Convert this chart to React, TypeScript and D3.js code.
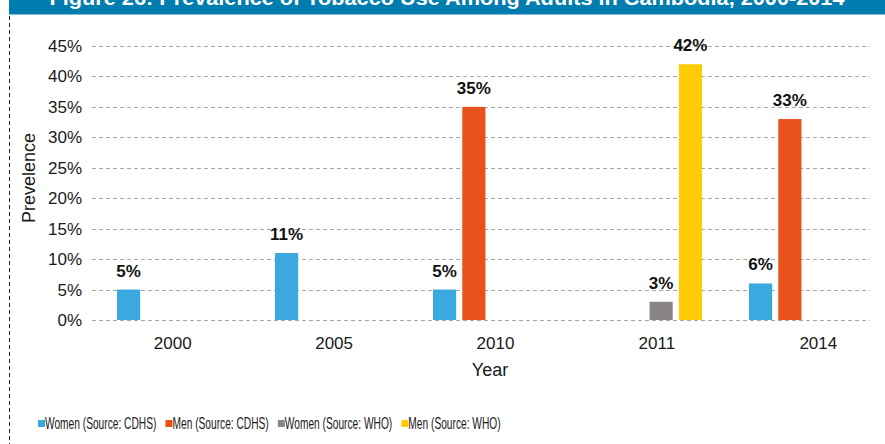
import React from 'react';
import * as d3 from 'd3';

const years = ['2000', '2005', '2010', '2011', '2014'];
const seriesNames = ['Women (Source: CDHS)', 'Men (Source: CDHS)', 'Women (Source: WHO)', 'Men (Source: WHO)'];
const womenCDHS: (number | null)[] = [5, 11, 5, null, 6];
const menCDHS: (number | null)[] = [null, null, 35, null, 33];
const womenWHO: (number | null)[] = [null, null, null, 3, null];
const menWHO: (number | null)[] = [null, null, null, 42, null];
const yTicks = [0, 5, 10, 15, 20, 25, 30, 35, 40, 45];
const colors = ['#3AA9E0', '#E8521A', '#8A8584', '#FFCB05'];
const titleText = 'Figure 26: Prevalence of Tobacco Use Among Adults in Cambodia, 2000-2014';
const yTitle = 'Prevelence';
const xTitle = 'Year';

const W = 885;
const H = 444;
const FONT = "'Liberation Sans', Arial, Helvetica, sans-serif";

function measure(text: string, font: string): number {
  if (typeof document === 'undefined') return text.length * 8;
  const c = document.createElement('canvas');
  const ctx = c.getContext('2d');
  if (!ctx) return text.length * 8;
  ctx.font = font;
  return ctx.measureText(text).width;
}

export default function App() {
  const seriesValues = [womenCDHS, menCDHS, womenWHO, menWHO];

  const y = d3.scaleLinear().domain([0, 45]).range([320, 46]);
  const xGroup = d3.scaleBand<string>().domain(years).range([92, 882]).paddingInner(0).paddingOuter(0);
  const xInner = d3.scaleBand<string>().domain(seriesNames).range([25, 136]).paddingInner(0.21).paddingOuter(0);
  const xLabel = d3.scaleBand<string>().domain(years).range([92, 899]);

  const gridX0 = 92;
  const gridX1 = 870;

  // legend layout: condensed text (horizontal squeeze)
  const legendSize = 16;
  const condenseTarget = 0.68 * 15; // width of 15px Arial * 0.68
  let cursor = 38;
  const legendItems = seriesNames.map((name, i) => {
    const nat = measure(name, `${legendSize}px ${FONT}`);
    const tw = measure(name, `15px ${FONT}`) * 0.68;
    const sx = nat > 0 ? tw / nat : 0.64;
    const item = { name, color: colors[i], rx: cursor, tx: cursor + 7, tw, sx };
    cursor = cursor + 7 + tw + 9;
    return item;
  });
  void condenseTarget;

  const bars: { key: string; x: number; w: number; y0: number; y1: number; color: string; v: number }[] = [];
  seriesValues.forEach((vals, si) => {
    vals.forEach((v, yi) => {
      if (v == null) return;
      const gx = xGroup(years[yi])!;
      const bx = gx + xInner(seriesNames[si])!;
      bars.push({ key: `${si}-${yi}`, x: bx, w: xInner.bandwidth(), y0: y(0), y1: y(v), color: colors[si], v });
    });
  });

  return (
    <svg width={W} height={H} style={{ position: 'absolute', left: 0, top: 0, background: '#fff' }} fontFamily={FONT}>
      <rect x={0} y={0} width={W} height={H} fill="#fff" />
      {/* title banner */}
      <rect x={9} y={0} width={W - 9} height={14.5} fill="#007DAE" />
      <text x={447} y={4.5} textAnchor="middle" fill="#fff" fontWeight="bold" fontSize={20}
        textLength={795} lengthAdjust="spacingAndGlyphs">{titleText}</text>
      {/* left dashed border */}
      <line x1={9.5} x2={9.5} y1={16} y2={H} stroke="#222" strokeWidth={1} strokeDasharray="4,3" />

      {/* gridlines */}
      {yTicks.map(t => (
        <line key={t} x1={gridX0} x2={gridX1} y1={Math.round(y(t)) + 0.5} y2={Math.round(y(t)) + 0.5}
          stroke="#A6A6A6" strokeWidth={1} strokeDasharray="4,3" />
      ))}
      {/* y tick labels */}
      {yTicks.map(t => (
        <text key={t} x={82} y={y(t)} dy="0.35em" textAnchor="end" fontSize={17} fill="#1a1a1a">{`${t}%`}</text>
      ))}

      {/* bars */}
      {bars.map(b => (
        <rect key={b.key} x={b.x} y={b.y1} width={b.w} height={b.y0 - b.y1} fill={b.color} />
      ))}
      {/* data labels */}
      {bars.map(b => (
        <text key={'l' + b.key} x={b.x + b.w / 2} y={b.y1 - 13} textAnchor="middle" fontWeight="bold" fontSize={17} fill="#111">{`${b.v}%`}</text>
      ))}

      {/* x tick labels */}
      {years.map(yr => (
        <text key={yr} x={xLabel(yr)! + xLabel.bandwidth() / 2} y={349} textAnchor="middle" fontSize={17} fill="#1a1a1a">{yr}</text>
      ))}
      {/* axis titles */}
      <text x={490} y={376} textAnchor="middle" fontSize={18} fill="#1a1a1a">{xTitle}</text>
      <text transform={`translate(35,178) rotate(-90)`} textAnchor="middle" fontSize={18} fill="#1a1a1a">{yTitle}</text>

      {/* legend */}
      {legendItems.map(it => (
        <g key={it.name}>
          <rect x={it.rx} y={420} width={7} height={7} fill={it.color} />
          <text transform={`translate(${it.tx},428.5) scale(${it.sx},1)`} fontSize={legendSize} fill="#1a1a1a">{it.name}</text>
        </g>
      ))}
    </svg>
  );
}
